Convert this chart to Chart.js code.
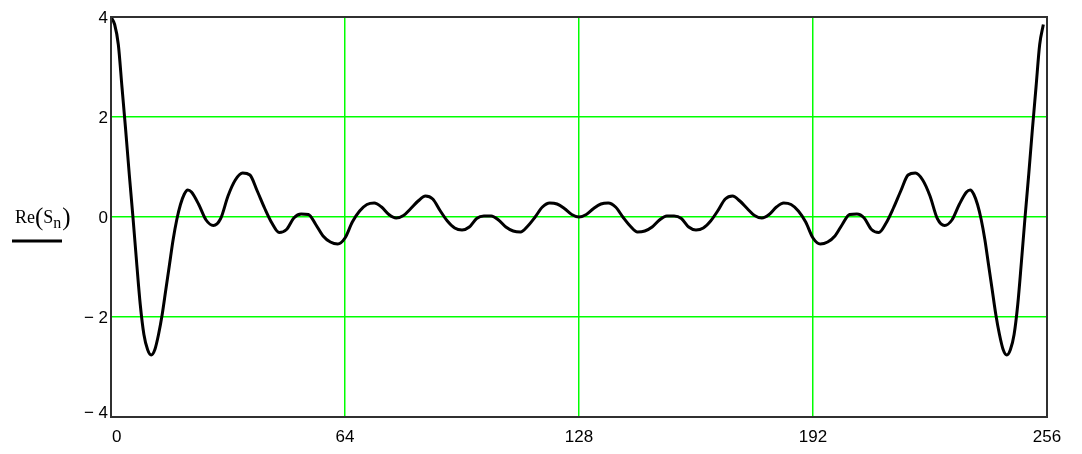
<!DOCTYPE html>
<html>
<head>
<meta charset="utf-8">
<script src="https://cdn.jsdelivr.net/npm/chart.js@4/dist/chart.umd.min.js"></script>
<style>
html,body{margin:0;padding:0;background:#fff;}
#wrap{width:1082px;height:454px;position:relative;}
</style>
</head>
<body>
<div id="wrap"><canvas id="c" width="1082" height="454"></canvas></div>
<script>
// sample index n
const nValues = [
  0,1,2,3,4,5,6,7,8,9,10,11,12,13,14,15,16,17,18,19,20,21,22,
  24,26,28,30,32,34,36,38,40,42,44,46,48,50,52,54,56,58,60,62,64,66,68,70,72,74,76,78,80,
  82,84,86,88,90,92,94,96,98,100,102,104,106,108,110,112,114,116,118,120,122,124,126,128,
  130,132,134,136,138,140,142,144,146,148,150,152,154,156,158,160,162,164,166,168,170,172,174,176,178,
  180,182,184,186,188,190,192,194,196,198,200,202,204,206,208,210,212,214,216,218,220,222,224,226,228,230,232,234,
  235,236,237,238,239,240,241,242,243,244,245,246,247,248,249,250,251,252,253,254,255
];
// Re(S_n)
const reValues = [
  4.0,3.85,3.45,2.6,1.75,0.85,0.0,-0.9,-1.75,-2.35,-2.65,-2.76,-2.65,-2.35,-1.95,-1.45,-0.95,-0.45,-0.05,0.25,0.45,0.54,0.5,
  0.25,-0.06,-0.17,-0.03,0.42,0.74,0.88,0.84,0.52,0.18,-0.12,-0.31,-0.25,-0.02,0.06,0.05,-0.15,-0.38,-0.5,-0.54,-0.42,-0.1,0.12,0.25,0.28,0.2,0.05,-0.02,0.03,
  0.17,0.32,0.42,0.36,0.13,-0.08,-0.22,-0.26,-0.2,-0.03,0.02,0.02,-0.06,-0.2,-0.28,-0.3,-0.18,0.0,0.2,0.28,0.26,0.17,0.05,0.0,
  0.05,0.17,0.26,0.28,0.2,0.0,-0.18,-0.3,-0.28,-0.2,-0.06,0.02,0.02,-0.03,-0.2,-0.26,-0.22,-0.08,0.13,0.36,0.42,0.32,0.17,0.03,-0.02,
  0.05,0.2,0.28,0.25,0.12,-0.1,-0.42,-0.54,-0.5,-0.38,-0.15,0.05,0.06,-0.02,-0.25,-0.31,-0.12,0.18,0.52,0.84,0.88,0.74,0.42,-0.03,-0.17,-0.06,0.25,0.5,
  0.54,0.45,0.25,-0.05,-0.45,-0.95,-1.45,-1.95,-2.35,-2.65,-2.76,-2.65,-2.35,-1.75,-0.9,0.0,0.85,1.75,2.6,3.45,3.85
];
const xTickLabels = ["0","64","128","192","256"];
const xTickValues = [0,64,128,192,256];
const yTickLabels = ["4","2","0","\u2212 2","\u2212 4"];
const yTickValues = [4,2,0,-2,-4];

const points = nValues.map((n,i)=>({x:n,y:reValues[i]}));

const decor = {
  id:'decor',
  afterDraw(chart){
    const ctx = chart.ctx, a = chart.chartArea;
    const xs = chart.scales.x, ys = chart.scales.y;
    ctx.save();
    // frame
    ctx.strokeStyle = '#303030';
    ctx.lineWidth = 2;
    ctx.strokeRect(a.left, a.top, a.right - a.left, a.bottom - a.top);
    // tick labels
    ctx.fillStyle = '#000';
    ctx.font = '17px "Liberation Sans", Arial, sans-serif';
    ctx.textBaseline = 'middle';
    ctx.textAlign = 'right';
    yTickValues.forEach((v,i)=>{
      let y = ys.getPixelForValue(v);
      if (i === yTickValues.length-1) y -= 5;
      ctx.fillText(yTickLabels[i], a.left - 3, y + 1);
    });
    xTickValues.forEach((v,i)=>{
      const x = xs.getPixelForValue(v);
      ctx.textAlign = i === 0 ? 'left' : 'center';
      ctx.fillText(xTickLabels[i], i === 0 ? x + 1 : x, a.bottom + 20);
    });
    // axis title Re(S_n)
    const ty = ys.getPixelForValue(0);
    ctx.textAlign = 'left';
    ctx.textBaseline = 'alphabetic';
    let x = 15;
    const base = ty + 6;
    ctx.font = '18px "Liberation Serif", "Times New Roman", serif';
    ctx.fillText('Re', x, base); x += ctx.measureText('Re').width;
    ctx.font = '25px "Liberation Serif", serif';
    ctx.fillText('(', x, base + 2); x += ctx.measureText('(').width;
    ctx.font = '18px "Liberation Serif", serif';
    ctx.fillText('S', x, base); x += ctx.measureText('S').width;
    ctx.font = '16px "Liberation Serif", serif';
    ctx.fillText('n', x, base + 5); x += ctx.measureText('n').width + 1;
    ctx.font = '25px "Liberation Serif", serif';
    ctx.fillText(')', x, base + 2);
    // legend line sample
    ctx.strokeStyle = '#000';
    ctx.lineWidth = 3;
    ctx.beginPath();
    ctx.moveTo(12, ty + 24);
    ctx.lineTo(62, ty + 24);
    ctx.stroke();
    ctx.restore();
  }
};

const gridColor = (ctx)=>{
  const v = ctx.tick ? ctx.tick.value : null;
  return (v === 0 && ctx.scale.axis === 'x') || v === 256 || v === 4 || v === -4 ? 'rgba(0,0,0,0)' : '#00ff00';
};

new Chart(document.getElementById('c'), {
  type:'line',
  data:{datasets:[{
    data: points,
    borderColor:'#000',
    borderWidth:3,
    pointRadius:0,
    fill:false,
    cubicInterpolationMode:'monotone'
  }]},
  options:{
    responsive:false,
    animation:false,
    devicePixelRatio:1,
    layout:{padding:{left:111,right:35,top:17,bottom:37}},
    plugins:{legend:{display:false},tooltip:{enabled:false}},
    scales:{
      x:{type:'linear',min:0,max:256,
         ticks:{display:false,stepSize:64},
         grid:{color:gridColor,lineWidth:1.5,drawTicks:false},
         border:{display:false}},
      y:{type:'linear',min:-4,max:4,
         ticks:{display:false,stepSize:2},
         grid:{color:gridColor,lineWidth:1.5,drawTicks:false},
         border:{display:false}}
    }
  },
  plugins:[decor]
});
</script>
</body>
</html>
